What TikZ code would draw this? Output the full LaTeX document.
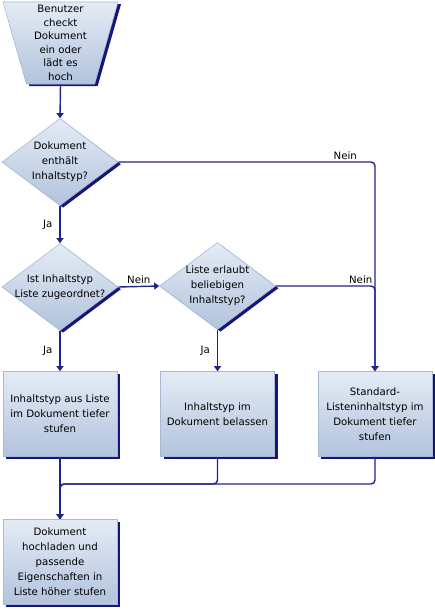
\documentclass[tikz,border=0pt]{standalone}
\usepackage{fontspec}
\setmainfont{DejaVu Sans}
\usetikzlibrary{positioning}
\usetikzlibrary{shapes.geometric}
\usetikzlibrary{shadows}
\usetikzlibrary{arrows.meta}
\definecolor{navy}{HTML}{22228C}
\definecolor{shadenavy}{HTML}{16167A}
\definecolor{edgeblue}{HTML}{A9B9D3}
\definecolor{topblue}{HTML}{E4EBF5}
\definecolor{botblue}{HTML}{B2C3DD}

\begin{document}
\begin{tikzpicture}[x=1pt, y=-1pt,
        every node/.style={font=\fontsize{10.2}{15}\selectfont, align=center, text=black},
        sh/.style={top color=topblue, bottom color=botblue, draw=edgeblue, line width=0.6pt,
            drop shadow={fill=shadenavy, opacity=1, shadow xshift=3pt, shadow yshift=-2.2pt}},
        box/.style={sh, rectangle, minimum width=114pt, minimum height=85pt, inner sep=0pt},
        dec/.style={sh, diamond, shape aspect=1.333, minimum width=116pt, minimum height=87pt, inner sep=-6pt},
        trap/.style={sh, trapezium, trapezium angle=72.7, shape border rotate=180, trapezium stretches body=true,
            minimum width=115pt, minimum height=82pt, inner sep=0pt, font=\fontsize{10.2}{13.5}\selectfont},
        lbl/.style={inner sep=2pt},
        ja/.style={inner sep=0pt, left=7pt},
        line/.style={navy, line width=1.4pt, rounded corners=4pt},
        arr/.style={line, -{Triangle[length=5pt, width=7pt]}}]
        \useasboundingbox (0,0) rectangle (435,610);

        \node[trap] (t) at (60.5, 43) {Benutzer\\checkt\\Dokument\\ein oder\\lädt es\\hoch};
        \node[dec] (d1) at (60, 162) {Dokument\\enthält\\Inhaltstyp?};
        \node[dec] (d2) at (60, 287) {Ist Inhaltstyp\\Liste zugeordnet?};
        \node[dec] (d3) at (217.5, 286) {Liste erlaubt\\beliebigen\\Inhaltstyp?};
        \node[box] (b1) at (60, 414) {Inhaltstyp aus Liste\\im Dokument tiefer\\stufen};
        \node[box] (b2) at (217.5, 414) {Inhaltstyp im\\Dokument belassen};
        \node[box] (b3) at (375, 414) {Standard-\\Listeninhaltstyp im\\Dokument tiefer\\stufen};
        \node[box] (b4) at (60, 562) {Dokument\\hochladen und\\passende\\Eigenschaften in\\Liste höher stufen};
        \coordinate (j) at (60, 484);

        \draw[arr] (t.south) -- (d1.north);
        \draw[arr] (d1.east) -| node[lbl, pos=0.47, above left] {Nein} (b3.north);
        \draw[arr] (d1.south) -- node[ja] {Ja} (d2.north);
        \draw[arr] (d2.east) -- node[lbl, above] {Nein} (d3.west);
        \draw[arr] (d3.east) -| node[lbl, pos=0.5, above left] {Nein} (b3.north);
        \draw[arr] (d2.south) -- node[ja] {Ja} (b1.north);
        \draw[arr] (d3.south) -- node[ja] {Ja} (b2.north);
        \draw[arr] (b1.south) -- (b4.north);
        \draw[arr] (b2.south) |- (j) -- (b4.north);
        \draw[arr] (b3.south) |- (j) -- (b4.north);
    \end{tikzpicture}
\end{document}
